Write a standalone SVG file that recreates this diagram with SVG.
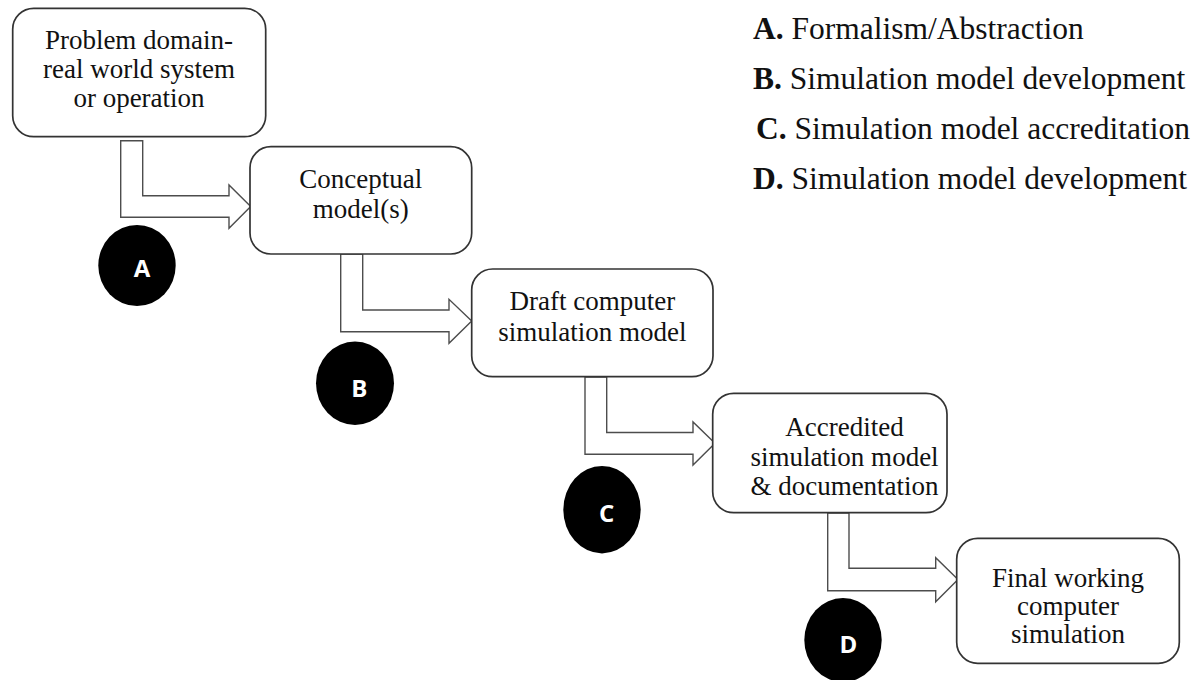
<svg xmlns="http://www.w3.org/2000/svg" width="1201" height="680" viewBox="0 0 1201 680">
<style>
.box{fill:#fff;stroke:#333;stroke-width:1.7}
.arr{fill:#fff;stroke:#4d4d4d;stroke-width:1.4;stroke-linejoin:miter}
.t{font-family:"Liberation Serif","Times New Roman",serif;font-size:27px;fill:#111;text-anchor:middle}
.lg{font-family:"Liberation Serif","Times New Roman",serif;font-size:31.5px;fill:#111}
.lg .b{font-weight:bold}
.dot{fill:#000}
.dl{font-family:"Open Sans","DejaVu Sans",sans-serif;font-weight:bold;font-size:24px;fill:#fff;text-anchor:middle}
</style>
<rect width="1201" height="680" fill="#fff"/>
<g id="connectors">
<polygon class="arr" points="120.7,140.7 142.7,140.7 142.7,195.7 229,195.7 229,185 250.7,206.5 229,228.3 229,217.3 120.7,217.3"/>
<polygon class="arr" points="340.7,254 362.7,254 362.7,310 449,310 449,299.3 471.7,321 449,343.3 449,331.7 340.7,331.7"/>
<polygon class="arr" points="585,377 606.7,377 606.7,432.5 693,432.5 693,422 715,443.3 693,465 693,454.2 585,454.2"/>
<polygon class="arr" points="827.7,513 849,513 849,568.3 935.7,568.3 935.7,557.7 958,579.5 935.7,601.7 935.7,590.7 827.7,590.7"/>
</g>
<g id="n1">
<rect class="box" x="12.7" y="8.3" width="253" height="128.4" rx="21"/>
<text class="t" x="139" y="49">Problem domain-</text>
<text class="t" x="139" y="78">real world system</text>
<text class="t" x="139" y="107">or operation</text>
</g>
<g id="n2">
<rect class="box" x="250" y="146.7" width="221.7" height="107.3" rx="21"/>
<text class="t" x="360.8" y="187.5">Conceptual</text>
<text class="t" x="360.8" y="217.5">model(s)</text>
</g>
<g id="n3">
<rect class="box" x="471.7" y="269" width="241.3" height="107.7" rx="21"/>
<text class="t" x="592.3" y="310">Draft computer</text>
<text class="t" x="592.3" y="341">simulation model</text>
</g>
<g id="n4">
<rect class="box" x="712.7" y="393.3" width="234.3" height="119.4" rx="21"/>
<text class="t" x="844.5" y="436">Accredited</text>
<text class="t" x="844.5" y="466">simulation model</text>
<text class="t" x="844.5" y="495">&amp; documentation</text>
</g>
<g id="n5">
<rect class="box" x="956.7" y="538.3" width="222.6" height="125" rx="21"/>
<text class="t" x="1068" y="587">Final working</text>
<text class="t" x="1068" y="615">computer</text>
<text class="t" x="1068" y="643">simulation</text>
</g>
<g id="mA">
<ellipse class="dot" cx="137" cy="265.5" rx="38.7" ry="40.5"/>
<text class="dl" x="142" y="277">A</text>
</g>
<g id="mB">
<ellipse class="dot" cx="355" cy="383.3" rx="39" ry="41.7"/>
<text class="dl" x="359.3" y="397">B</text>
</g>
<g id="mC">
<ellipse class="dot" cx="602" cy="509.7" rx="38.7" ry="43.7"/>
<text class="dl" x="606.7" y="522">C</text>
</g>
<g id="mD">
<ellipse class="dot" cx="843" cy="640" rx="38.7" ry="42"/>
<text class="dl" x="848.3" y="653">D</text>
</g>
<g id="legend">
<text class="lg" x="753" y="39"><tspan class="b">A.</tspan> Formalism/Abstraction</text>
<text class="lg" x="753" y="89"><tspan class="b">B.</tspan> Simulation model development</text>
<text class="lg" x="756" y="139"><tspan class="b">C.</tspan> Simulation model accreditation</text>
<text class="lg" x="753" y="189"><tspan class="b">D.</tspan> Simulation model development</text>
</g>
</svg>
